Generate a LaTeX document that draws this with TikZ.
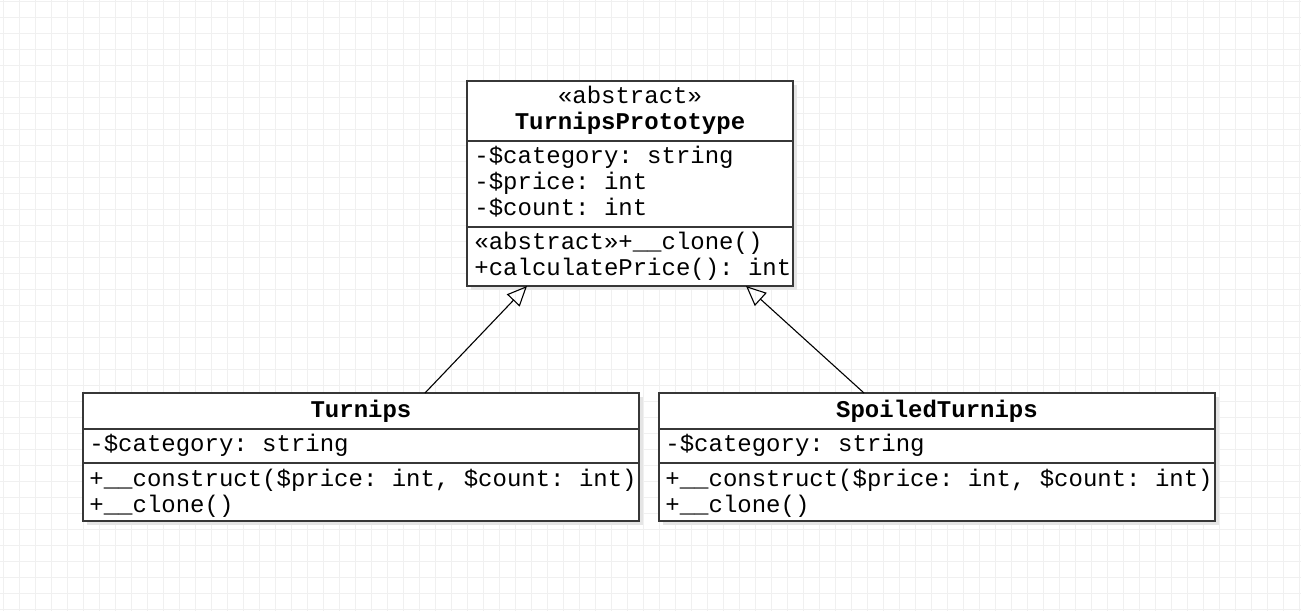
\documentclass[tikz,border=0pt]{standalone}
\usepackage{fontspec}
\setmainfont{Liberation Mono}
\frenchspacing
\usetikzlibrary{arrows.meta,shadows}
\definecolor{gridc}{RGB}{240,240,240}
\definecolor{boxc}{RGB}{55,55,55}
\begin{document}
\begin{tikzpicture}[x=0.5pt,y=-0.5pt,
  umlbox/.style={draw=boxc, line width=0.8pt, fill=white, rectangle, anchor=north west, inner sep=0pt, outer sep=0pt,
    drop shadow={fill=black!10, opacity=1, shadow xshift=2.2pt, shadow yshift=-2.2pt}},
  divider/.style={draw=boxc, line width=0.8pt},
  txt/.style={anchor=base west, inner sep=0pt, font=\fontsize{12}{14}\selectfont\frenchspacing},
  ttl/.style={anchor=base, inner sep=0pt, font=\fontsize{12}{14}\selectfont},
  bttl/.style={anchor=base, inner sep=0pt, font=\fontsize{12}{14}\selectfont\bfseries},
  inherit/.style={-{Triangle[open,length=10pt,width=8.8pt]}, line width=0.55pt, draw=black}]
% background and grid
\fill[white] (0,0) rectangle (1301,611);
\useasboundingbox (0,0) rectangle (1301,611);
\foreach \x in {3,19,...,1299} \draw[gridc, line width=0.5pt] (\x,0) -- (\x,611);
\foreach \y in {1,17,...,609} \draw[gridc, line width=0.5pt] (0,\y) -- (1301,\y);
% helper coordinates
\coordinate (yA) at (0,141);
\coordinate (yB) at (0,227);
\coordinate (yC) at (0,429);
\coordinate (yD) at (0,463);
\coordinate (xA) at (425,0);
\coordinate (xB) at (527,0);
\coordinate (xC) at (864,0);
\coordinate (xD) at (746,0);
% boxes
\node[umlbox, minimum width=163pt, minimum height=102.5pt] (proto) at (467,81) {};
\node[umlbox, minimum width=278pt, minimum height=64pt] (turn) at (83,393) {};
\node[umlbox, minimum width=278pt, minimum height=64pt] (spoil) at (659,393) {};
% dividers
\draw[divider] (proto.west |- yA) -- (proto.east |- yA);
\draw[divider] (proto.west |- yB) -- (proto.east |- yB);
\draw[divider] (turn.west |- yC) -- (turn.east |- yC);
\draw[divider] (turn.west |- yD) -- (turn.east |- yD);
\draw[divider] (spoil.west |- yC) -- (spoil.east |- yC);
\draw[divider] (spoil.west |- yD) -- (spoil.east |- yD);
% prototype texts
\node[ttl] (pst) at (630,103) {«abstract»};
\node[bttl] (pname) at (630,129) {TurnipsPrototype};
\node[txt] (pa1) at (474,163) {-\$category: string};
\node[txt] (pa2) at (474,189) {-\$price: int};
\node[txt] (pa3) at (474,215) {-\$count: int};
\node[txt] (pm1) at (474,249) {«abstract»+\_\_clone()};
\node[txt] (pm2) at (474,275) {+calculatePrice(): int};
% turnips texts
\node[bttl] (tname) at (361,417) {Turnips};
\node[txt] (ta1) at (89,451) {-\$category: string};
\node[txt] (tm1) at (89,486) {+\_\_construct(\$price: int, \$count: int)};
\node[txt] (tm2) at (89,512) {+\_\_clone()};
% spoiled turnips texts
\node[bttl] (sname) at (937,417) {SpoiledTurnips};
\node[txt] (sa1) at (665,451) {-\$category: string};
\node[txt] (sm1) at (665,486) {+\_\_construct(\$price: int, \$count: int)};
\node[txt] (sm2) at (665,512) {+\_\_clone()};
% inheritance arrows
\draw[inherit] (turn.north -| xA) -- (proto.south -| xB);
\draw[inherit] (spoil.north -| xC) -- (proto.south -| xD);
\end{tikzpicture}
\end{document}
